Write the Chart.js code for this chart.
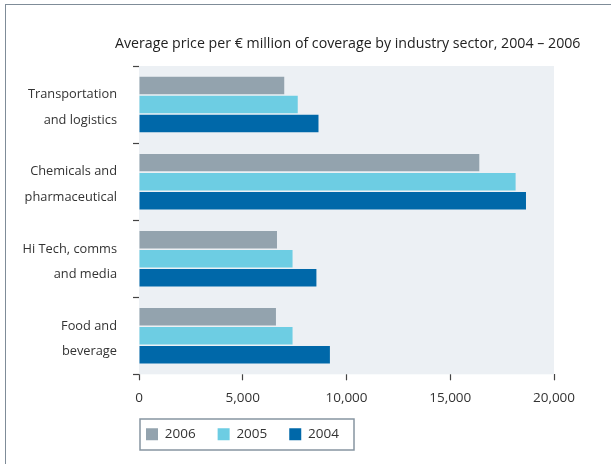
<!DOCTYPE html>
<html>
<head>
<meta charset="utf-8">
<script src="https://cdn.jsdelivr.net/npm/chart.js@4.4.1/dist/chart.umd.min.js"></script>
<style>
  html, body { margin: 0; padding: 0; background: #fff; }
  #wrap { position: relative; width: 611px; height: 464px; }
  #frame {
    position: absolute; left: 5px; top: 4px; right: 0; bottom: 0;
    border-top: 1.5px solid #7f8c98; border-left: 1.5px solid #7f8c98;
    pointer-events: none;
  }
</style>
</head>
<body>
<div id="wrap">
  <canvas id="chart" width="611" height="464"></canvas>
  <div id="frame"></div>
</div>
<script>
// Datos
const sectors = [
  ['Transportation', 'and logistics'],
  ['Chemicals and', 'pharmaceutical'],
  ['Hi Tech, comms', 'and media'],
  ['Food and', 'beverage']
];
const years = ['2006', '2005', '2004'];
const values2006 = [7000, 16400, 6650, 6600];
const values2005 = [7650, 18150, 7400, 7400];
const values2004 = [8650, 18650, 8550, 9200];
const xTicks = [0, 5000, 10000, 15000, 20000];

const COLORS = {
  y2006: '#93a3ae',
  y2005: '#6dcde3',
  y2004: '#0068a9',
  plotBg: '#ecf0f4',
  text: '#333333',
  tick: '#444444',
  frame: '#8795a1'
};

const FONT = 'Open Sans';

// Fondo del área de trazado, posición de título/leyenda y marco de leyenda
const decorPlugin = {
  id: 'decor',
  afterLayout(chart) {
    const t = chart.titleBlock;
    t.left += 109;
    t.right += 109;
    const lg = chart.legend;
    lg.left += 118;
    lg.right += 118;
    lg.top -= 11;
    lg.bottom -= 11;
  },
  beforeDatasetsDraw(chart) {
    const { ctx, chartArea } = chart;
    ctx.save();
    ctx.fillStyle = COLORS.plotBg;
    ctx.fillRect(chartArea.left, chartArea.top, chartArea.right - chartArea.left, chartArea.bottom - chartArea.top);
    ctx.restore();
  },
  afterDraw(chart) {
    const { ctx, legend } = chart;
    ctx.save();
    ctx.strokeStyle = COLORS.frame;
    ctx.lineWidth = 1.5;
    ctx.strokeRect(legend.left + 16, legend.top + 13.5, 214, 31);
    ctx.restore();
  }
};

new Chart(document.getElementById('chart'), {
  type: 'bar',
  data: {
    labels: sectors,
    datasets: [
      { label: years[0], data: values2006, backgroundColor: COLORS.y2006 },
      { label: years[1], data: values2005, backgroundColor: COLORS.y2005 },
      { label: years[2], data: values2004, backgroundColor: COLORS.y2004 }
    ]
  },
  options: {
    indexAxis: 'y',
    responsive: false,
    animation: false,
    categoryPercentage: 0.74,
    barPercentage: 0.92,
    layout: { padding: { left: 6, right: 57, top: 0, bottom: 2 } },
    plugins: {
      title: {
        display: true,
        text: 'Average price per \u20ac million of coverage by industry sector, 2004 \u2013 2006',
        align: 'start',
        color: '#222',
        font: { family: FONT, size: 14.2, weight: 'normal' },
        padding: { top: 35, bottom: 14 }
      },
      legend: {
        position: 'bottom',
        align: 'start',
        labels: {
          boxWidth: 12,
          boxHeight: 12,
          padding: 22,
          color: COLORS.text,
          font: { family: FONT, size: 13.5 }
        }
      },
      tooltip: { enabled: false }
    },
    scales: {
      x: {
        min: 0,
        max: 20000,
        afterBuildTicks: scale => { scale.ticks = xTicks.map(v => ({ value: v })); },
        border: { display: false },
        grid: { drawOnChartArea: false, tickLength: 6, color: COLORS.tick, tickWidth: 1.2 },
        ticks: {
          padding: 10,
          color: COLORS.text,
          font: { family: FONT, size: 13.5 },
          callback: v => v.toLocaleString('en-US')
        }
      },
      y: {
        afterFit: scale => { scale.width = 133; },
        border: { display: false },
        grid: { drawOnChartArea: false, tickLength: 6, color: COLORS.tick, tickWidth: 1.2, offset: true },
        ticks: {
          padding: 16,
          labelOffset: 3,
          color: COLORS.text,
          font: { family: FONT, size: 12.8, lineHeight: 2 }
        }
      }
    }
  },
  plugins: [decorPlugin]
});
</script>
</body>
</html>
